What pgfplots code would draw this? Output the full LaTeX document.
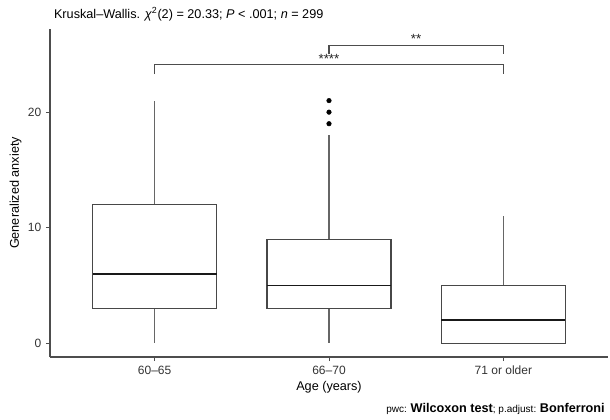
\documentclass[border=0pt]{standalone}
\usepackage{fontspec}
\setmainfont{Liberation Sans}
\usepackage{pgfplots}
\pgfplotsset{compat=1.18}
\usepgfplotslibrary{statistics}
\definecolor{axgray}{HTML}{4D4D4D}
\definecolor{boxgray}{HTML}{333333}
\begin{document}
\begin{tikzpicture}
\begin{axis}[
  name=ax,
  scale only axis,
  width=418.5pt, height=246pt,
  xmin=0.4, xmax=3.6,
  ymin=-1.2, ymax=27.2,
  axis lines=left,
  axis line style={-, axgray, line width=0.9pt},
  xtick={1,2,3},
  xticklabels={60--65, 66--70, 71 or older},
  ytick={0,10,20},
  tick style={axgray, line width=0.7pt},
  tick align=outside,
  major tick length=3pt,
  ticklabel style={font=\fontsize{9}{11}\selectfont, text=black!80},
  /pgf/number format/assume math mode=true,
  xlabel={Age (years)},
  ylabel={Generalized anxiety},
  label style={font=\fontsize{9.5}{11}\selectfont},
  xlabel style={yshift=2pt},
  ylabel style={yshift=-2pt},
  clip=false,
  boxplot/draw direction=y,
  boxplot/box extend=0.71,
  boxplot/whisker extend=0,
  boxplot/every median/.style={line width=1.3pt, black!90},
  boxplot/every box/.style={line width=0.9pt, boxgray!90},
  boxplot/every whisker/.style={line width=0.9pt, boxgray!75},
]
\addplot[boxgray, mark=*, mark size=1.7pt, mark options={fill=black, draw=black},
  boxplot prepared={draw position=1, lower whisker=0, lower quartile=3,
    median=6, upper quartile=12, upper whisker=21}]
  coordinates {};
\addplot[boxgray, mark=*, mark size=1.7pt, mark options={fill=black, draw=black},
  boxplot prepared={draw position=2, lower whisker=0, lower quartile=3,
    median=5, upper quartile=9, upper whisker=18}]
  table[row sep=\\, y index=0] {data\\ 19\\ 20\\ 21\\};
\addplot[boxgray, mark=*, mark size=1.7pt, mark options={fill=black, draw=black},
  boxplot prepared={draw position=3, lower whisker=0, lower quartile=0,
    median=2, upper quartile=5, upper whisker=11}]
  coordinates {};
% significance brackets
\addplot[axgray, line width=0.9pt, mark=none] coordinates {(1,23.3) (1,24.1) (3,24.1) (3,23.3)};
\addplot[axgray, line width=0.9pt, mark=none] coordinates {(2,25.0) (2,25.8) (3,25.8) (3,25.0)};
\node[font=\fontsize{10}{11}\selectfont, text=black!85] at (axis cs:2,24.6) {****};
\node[font=\fontsize{10}{11}\selectfont, text=black!85] at (axis cs:2.5,26.3) {**};
\end{axis}
\node[anchor=west, font=\fontsize{9.5}{11}\selectfont] at ([yshift=11.25pt, xshift=-0.5pt]ax.north west)
  {Kruskal--Wallis. \textit{χ}\textsuperscript{2}(2) = 20.33; \textit{P} < .001; \textit{n} = 299};
\node[anchor=east, inner sep=0pt] at ([yshift=-39pt, xshift=-2.25pt]ax.south east)
  {\fontsize{7.5}{8}\selectfont pwc: \fontsize{9.5}{10}\selectfont\textbf{Wilcoxon test}\fontsize{7.5}{8}\selectfont; p.adjust: \fontsize{9.5}{10}\selectfont\textbf{Bonferroni}};
\pgfresetboundingbox
\useasboundingbox ([shift={(-37.5pt,-46.5pt)}]ax.south west) rectangle ([shift={(1.5pt,21.75pt)}]ax.north east);
\end{tikzpicture}
\end{document}
